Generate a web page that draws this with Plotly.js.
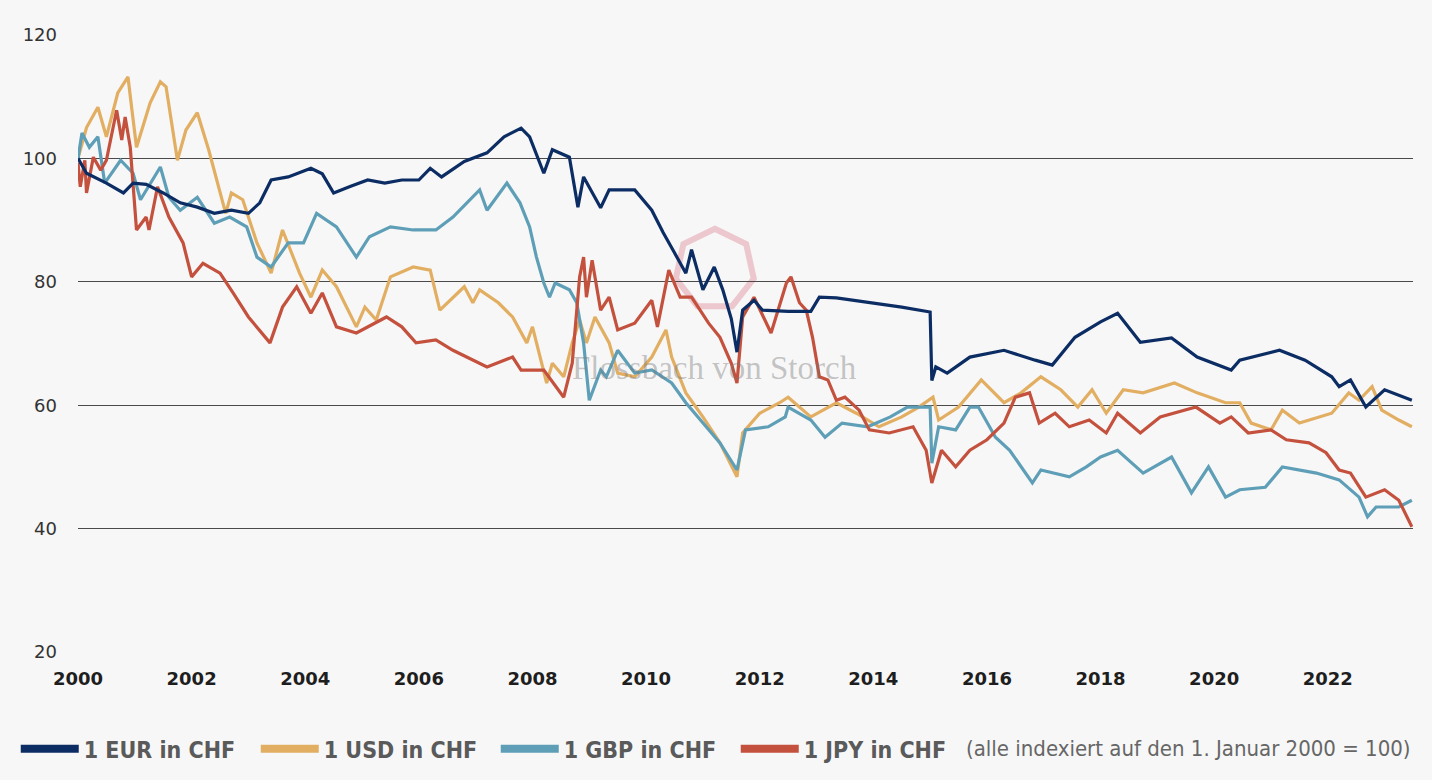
<!DOCTYPE html>
<html>
<head>
<meta charset="utf-8">
<script src="https://cdn.plot.ly/plotly-3.0.1.min.js"></script>
<style>
  html, body { margin: 0; padding: 0; background: #f7f7f7; }
  #chart { width: 1432px; height: 780px; }
</style>
</head>
<body>
<div id="chart"></div>
<script>
// Wechselkurse in CHF, indexiert auf 1. Januar 2000 = 100
const eurJahre = [2000.0, 2000.15, 2000.5, 2000.8, 2000.97, 2001.2, 2001.5, 2001.8, 2002.1, 2002.4, 2002.7, 2003.0, 2003.2, 2003.4, 2003.7, 2004.1, 2004.3, 2004.5, 2004.8, 2005.1, 2005.4, 2005.7, 2006.0, 2006.2, 2006.4, 2006.8, 2007.2, 2007.5, 2007.8, 2007.95, 2008.2, 2008.35, 2008.65, 2008.8, 2008.9, 2009.2, 2009.35, 2009.8, 2010.1, 2010.3, 2010.5, 2010.7, 2010.8, 2011.0, 2011.2, 2011.35, 2011.5, 2011.6, 2011.7, 2011.9, 2012.05, 2012.5, 2012.9, 2013.05, 2013.35, 2013.9, 2014.5, 2015.0, 2015.03, 2015.1, 2015.3, 2015.7, 2016.3, 2016.85, 2017.15, 2017.55, 2018.0, 2018.3, 2018.7, 2019.25, 2019.7, 2020.3, 2020.45, 2021.15, 2021.6, 2022.07, 2022.2, 2022.4, 2022.67, 2023.0, 2023.48];
const eurWerte = [100, 97.6, 96, 94.4, 96, 95.8, 94.4, 92.8, 92.1, 91.1, 91.6, 91.1, 92.8, 96.5, 97, 98.4, 97.5, 94.4, 95.5, 96.5, 96, 96.5, 96.5, 98.4, 97, 99.5, 100.9, 103.5, 104.9, 103.5, 97.6, 101.4, 100.2, 92.1, 97, 92, 94.9, 94.9, 91.6, 88, 84.7, 81.4, 85.2, 78.7, 82.4, 78.7, 74, 68.6, 75.4, 77, 75.4, 75.2, 75.2, 77.5, 77.4, 76.7, 75.9, 75.1, 64, 66.2, 65.2, 67.8, 68.9, 67.3, 66.5, 71, 73.5, 74.9, 70.2, 70.9, 67.8, 65.7, 67.3, 68.9, 67.3, 64.6, 63, 64.1, 59.7, 62.5, 60.8];

const usdJahre = [2000.0, 2000.15, 2000.35, 2000.5, 2000.7, 2000.88, 2000.95, 2001.03, 2001.27, 2001.45, 2001.55, 2001.75, 2001.9, 2002.1, 2002.3, 2002.5, 2002.6, 2002.7, 2002.9, 2003.15, 2003.4, 2003.6, 2003.9, 2004.1, 2004.3, 2004.55, 2004.9, 2005.05, 2005.25, 2005.5, 2005.9, 2006.2, 2006.37, 2006.8, 2006.95, 2007.07, 2007.4, 2007.65, 2007.9, 2008.0, 2008.25, 2008.35, 2008.55, 2008.7, 2008.83, 2008.95, 2009.1, 2009.35, 2009.5, 2009.8, 2010.1, 2010.35, 2010.45, 2010.7, 2011.0, 2011.3, 2011.6, 2011.7, 2012.0, 2012.35, 2012.5, 2012.9, 2013.35, 2013.7, 2014.1, 2014.5, 2014.8, 2015.05, 2015.15, 2015.5, 2015.9, 2016.3, 2016.6, 2016.95, 2017.3, 2017.6, 2017.85, 2018.1, 2018.4, 2018.75, 2019.3, 2019.7, 2020.2, 2020.45, 2020.65, 2021.0, 2021.2, 2021.5, 2022.07, 2022.37, 2022.55, 2022.78, 2022.95, 2023.25, 2023.48];
const usdWerte = [100, 105, 108.3, 103.5, 110.6, 113.2, 107.8, 101.8, 109, 112.4, 111.6, 99.7, 104.6, 107.4, 101.4, 94.4, 91.1, 94.4, 93.3, 86.3, 81.4, 88.4, 81.4, 77.5, 81.9, 79.2, 72.7, 75.9, 73.8, 80.8, 82.4, 81.9, 75.4, 79.2, 76.6, 78.7, 76.6, 74.3, 70.1, 72.7, 63.6, 66.8, 64.6, 70.1, 73.8, 70.1, 74.3, 70.1, 65.2, 64.6, 67.8, 72.2, 67.8, 62, 58.1, 53.9, 48.4, 55.5, 58.7, 60.4, 61.3, 58.1, 60.4, 58.7, 56.5, 58.1, 59.7, 61.3, 57.6, 59.7, 64.1, 60.4, 62, 64.6, 62.5, 59.7, 62.5, 58.7, 62.5, 62, 63.6, 62, 60.4, 60.4, 57.1, 56, 59.2, 57.1, 58.7, 62, 60.8, 63, 59.2, 57.6, 56.5];

const gbpJahre = [2000.0, 2000.07, 2000.2, 2000.35, 2000.47, 2000.75, 2000.97, 2001.1, 2001.45, 2001.6, 2001.8, 2002.1, 2002.4, 2002.67, 2002.97, 2003.15, 2003.4, 2003.7, 2003.97, 2004.2, 2004.55, 2004.9, 2005.13, 2005.5, 2005.9, 2006.3, 2006.6, 2007.07, 2007.2, 2007.55, 2007.78, 2007.95, 2008.07, 2008.2, 2008.3, 2008.4, 2008.65, 2008.78, 2008.9, 2009.0, 2009.2, 2009.3, 2009.5, 2009.8, 2010.1, 2010.45, 2010.7, 2011.0, 2011.3, 2011.6, 2011.75, 2012.15, 2012.45, 2012.5, 2012.9, 2013.15, 2013.45, 2013.9, 2014.3, 2014.6, 2015.0, 2015.03, 2015.15, 2015.45, 2015.7, 2015.85, 2016.15, 2016.4, 2016.8, 2016.95, 2017.45, 2017.75, 2018.0, 2018.3, 2018.75, 2019.25, 2019.6, 2019.9, 2020.2, 2020.45, 2020.9, 2021.2, 2021.8, 2022.2, 2022.55, 2022.7, 2022.85, 2023.25, 2023.48];
const gbpWerte = [100, 104.1, 101.8, 103.5, 96, 99.7, 97.6, 93.3, 98.6, 93.7, 91.6, 93.7, 89.5, 90.5, 88.9, 84, 82.4, 86.3, 86.3, 91.1, 88.9, 84, 87.3, 88.9, 88.4, 88.4, 90.5, 94.9, 91.6, 96, 92.8, 88.9, 84, 79.8, 77.5, 79.8, 78.7, 76.6, 70.1, 60.8, 65.7, 64.6, 68.9, 65.2, 65.7, 63.6, 60.4, 57.1, 53.9, 49.5, 56, 56.5, 58.1, 59.7, 57.6, 54.8, 57.1, 56.5, 58.1, 59.7, 59.7, 50.6, 56.5, 56, 59.7, 59.7, 54.8, 52.7, 47.4, 49.5, 48.4, 50, 51.6, 52.7, 49, 51.6, 45.8, 50, 45.1, 46.3, 46.7, 50, 49, 47.9, 45.1, 41.9, 43.5, 43.5, 44.6];

const jpyJahre = [2000.0, 2000.04, 2000.12, 2000.15, 2000.27, 2000.4, 2000.5, 2000.68, 2000.77, 2000.83, 2000.92, 2000.97, 2001.03, 2001.2, 2001.25, 2001.4, 2001.6, 2001.85, 2002.0, 2002.2, 2002.5, 2002.73, 2003.0, 2003.38, 2003.6, 2003.85, 2004.1, 2004.3, 2004.55, 2004.9, 2005.43, 2005.7, 2005.95, 2006.3, 2006.6, 2007.2, 2007.65, 2007.8, 2008.2, 2008.55, 2008.7, 2008.83, 2008.9, 2008.95, 2009.05, 2009.2, 2009.35, 2009.5, 2009.8, 2010.1, 2010.2, 2010.4, 2010.6, 2010.8, 2011.1, 2011.3, 2011.5, 2011.6, 2011.7, 2011.9, 2012.2, 2012.47, 2012.55, 2012.7, 2012.82, 2012.93, 2013.05, 2013.2, 2013.35, 2013.5, 2013.75, 2013.93, 2014.28, 2014.7, 2014.93, 2015.03, 2015.2, 2015.45, 2015.7, 2016.0, 2016.3, 2016.5, 2016.75, 2016.92, 2017.2, 2017.45, 2017.8, 2018.1, 2018.3, 2018.7, 2019.05, 2019.68, 2020.1, 2020.3, 2020.6, 2021.0, 2021.27, 2021.67, 2021.97, 2022.2, 2022.4, 2022.67, 2023.0, 2023.25, 2023.48];
const jpyWerte = [99.3, 95.4, 99.7, 94.4, 100.2, 98.1, 99.7, 107.8, 103, 106.7, 101.8, 95.4, 88.4, 90.5, 88.4, 95.4, 90.5, 86.3, 80.8, 83, 81.4, 78.2, 74.3, 70.1, 75.9, 79.2, 74.9, 78.2, 72.7, 71.7, 74.3, 72.7, 70.1, 70.6, 68.9, 66.2, 67.8, 65.7, 65.7, 61.3, 66.8, 80.8, 84, 77.5, 83.5, 75.4, 77.5, 72.2, 73.3, 77, 72.7, 81.9, 77.5, 77.5, 73.3, 71, 66.8, 63.6, 74.3, 77.5, 71.7, 79.8, 80.8, 76.6, 75.4, 71, 64.6, 64.1, 60.8, 61.3, 59.2, 56, 55.5, 56.5, 52.7, 47.4, 52.7, 50, 52.7, 54.4, 57.1, 61.3, 62, 57.1, 58.7, 56.5, 57.6, 55.5, 58.7, 55.5, 58.1, 59.7, 57.1, 58.1, 55.5, 56, 54.4, 53.9, 52.3, 49.5, 49, 45.1, 46.3, 44.6, 40.3];

const tickJahre = [2000, 2002, 2004, 2006, 2008, 2010, 2012, 2014, 2016, 2018, 2020, 2022];
const tickWerte = [20, 40, 60, 80, 100, 120];

const namen = ['1 EUR in CHF', '1 USD in CHF', '1 GBP in CHF', '1 JPY in CHF'];
const farben = ['#0c2d64', '#e2ae62', '#5e9fb7', '#c4513d'];

const schmal = "'DejaVu Sans Condensed', 'Liberation Sans Narrow', sans-serif";
const breit = "'DejaVu Sans', sans-serif";

function linie(x, y, i) {
    return {
        x: x, y: y, type: 'scatter', mode: 'lines',
        name: namen[i], showlegend: false, hoverinfo: 'skip',
        line: { color: farben[i], width: 3.2 }
    };
}

// Nur für die Legende: dicke Striche
function legendenEintrag(i) {
    return {
        x: [null], y: [null], type: 'scatter', mode: 'lines',
        name: namen[i], showlegend: true,
        line: { color: farben[i], width: 8 }
    };
}

const daten = [
    linie(usdJahre, usdWerte, 1),
    linie(gbpJahre, gbpWerte, 2),
    linie(jpyJahre, jpyWerte, 3),
    linie(eurJahre, eurWerte, 0),
    legendenEintrag(0), legendenEintrag(1), legendenEintrag(2), legendenEintrag(3)
];

// Logo (Siebeneck) als Wasserzeichen
const cx = 0.477, cy = 0.62, rx = 0.03, ry = 0.066;
let pfad = '';
for (let k = 0; k < 7; k++) {
    const w = -Math.PI / 2 + k * 2 * Math.PI / 7;
    pfad += (k === 0 ? 'M' : 'L') + (cx + rx * Math.cos(w)).toFixed(4) + ',' + (cy - ry * Math.sin(w)).toFixed(4);
}
pfad += 'Z';

const layout = {
    width: 1432,
    height: 780,
    margin: { l: 78, r: 19, t: 35, b: 128 },
    paper_bgcolor: '#f7f7f7',
    plot_bgcolor: '#f7f7f7',
    font: { family: breit, color: '#333' },
    xaxis: {
        range: [2000, 2023.5],
        tickvals: tickJahre,
        ticktext: tickJahre.map(String),
        showgrid: false,
        zeroline: false,
        showline: false,
        ticks: '',
        ticklabelstandoff: 14,
        tickfont: { size: 18, weight: 'bold', color: '#1e1e1e', family: breit }
    },
    yaxis: {
        range: [20, 120],
        tickvals: tickWerte,
        gridcolor: '#4a4a4a',
        gridwidth: 1,
        zeroline: false,
        showline: false,
        ticks: '',
        ticklabelstandoff: 20,
        tickfont: { size: 18, color: '#333', family: breit }
    },
    showlegend: true,
    legend: {
        orientation: 'h',
        xref: 'container', yref: 'container',
        x: 0.011, y: 0.04,
        xanchor: 'left', yanchor: 'middle',
        font: { size: 23, weight: 'bold', color: '#5a5a5a', family: schmal },
        itemwidth: 58,
        entrywidth: 167,
        entrywidthmode: 'pixels',
        bgcolor: 'rgba(0,0,0,0)'
    },
    annotations: [
        {
            text: '(alle indexiert auf den 1. Januar 2000 = 100)',
            xref: 'paper', yref: 'paper', x: 1, y: -0.157,
            xanchor: 'right', yanchor: 'middle', showarrow: false,
            font: { size: 22, color: '#666', family: schmal }
        },
        {
            text: 'Flossbach von Storch',
            xref: 'paper', yref: 'paper', x: 0.477, y: 0.46,
            xanchor: 'center', yanchor: 'middle', showarrow: false,
            font: { size: 33, color: 'rgba(120,120,120,0.42)', family: "'Liberation Serif', 'DejaVu Serif', serif" }
        }
    ],
    shapes: [
        {
            type: 'path', xref: 'paper', yref: 'paper', path: pfad,
            line: { color: 'rgba(215,110,125,0.35)', width: 6 },
            layer: 'below'
        }
    ]
};

Plotly.newPlot('chart', daten, layout, { displayModeBar: false, staticPlot: true });
</script>
</body>
</html>
